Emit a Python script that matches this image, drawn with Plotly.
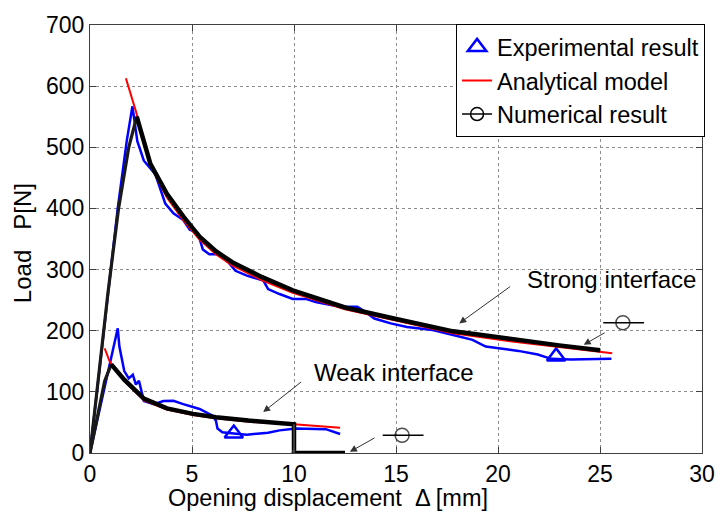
import plotly.graph_objects as go

# ---- Strong interface ----
strong_exp_x = [0, 0.88, 1.36, 1.80, 2.08, 2.32, 2.64, 3.20, 3.69, 4.09, 4.57, 4.89, 5.29, 5.53,
                5.85, 6.33, 6.81, 7.13, 7.69, 8.50, 8.73, 9.29, 9.94, 10.58, 11.06, 12.00,
                12.66, 13.10, 13.40, 13.94, 14.74, 15.54, 16.20, 16.80, 17.80, 18.75, 19.40,
                20.20, 21.00, 21.95, 22.60, 23.56, 24.20, 24.84, 25.56]
strong_exp_y = [0, 264, 400, 510, 567, 510, 478, 456, 408, 392, 381, 365, 360, 333,
                325, 325, 311, 298, 290, 282, 268, 260, 252, 252, 247, 241,
                239, 239, 233, 220, 212, 206, 204, 201, 193, 185, 174,
                170, 167, 161, 154, 153, 153, 154, 154]

strong_ana_x = [1.76, 2.24, 2.96, 3.77, 4.57, 5.37, 6.17, 6.97, 8.41, 9.94, 12.5, 14.9,
                17.8, 21.0, 23.0, 25.6]
strong_ana_y = [613, 560, 470, 418, 381, 349, 325, 307, 283, 262, 235, 217,
                196, 181, 173, 163]

strong_num_x = [0, 0.88, 1.40, 1.90, 2.29, 2.96, 3.77, 4.57, 5.37, 6.17, 6.97, 8.41, 9.94,
                12.5, 14.9, 17.8, 18.75, 21.0, 23.0, 25.0]
strong_num_y = [0, 262, 400, 500, 550, 473, 424, 387, 354, 330, 312, 288, 266,
                238, 220, 199, 195, 184, 176, 168]

# ---- Weak interface ----
weak_exp_x = [0, 1.36, 1.44, 1.68, 1.90, 2.10, 2.25, 2.40, 2.64, 3.13, 3.60, 4.09, 4.57,
              5.37, 6.01, 6.17, 6.25, 6.49, 7.05, 7.69, 8.73, 9.29, 10.1, 11.4, 11.56, 12.26]
weak_exp_y = [0, 204, 174, 134, 122, 128, 112, 118, 85, 80, 85, 85.5, 80,
              72, 61, 53, 40, 34, 32, 30, 33, 37, 40, 40, 39, 31]

weak_ana_x = [0.72, 0.96, 1.68, 2.64, 3.77, 5.05, 6.17, 7.77, 10.0, 11.0, 12.26]
weak_ana_y = [171, 150, 118, 86, 71, 62, 57, 51, 47, 44.5, 41.5]

weak_num_x = [0, 0.72, 1.04, 1.68, 2.64, 3.77, 5.05, 6.17, 7.77, 10.0, 10.0, 12.5]
weak_num_y = [0, 118, 145, 120, 89, 73, 64, 58.6, 53, 47, 0, 0]

# Triangle markers on the experimental curves
tri_x = [7.05, 22.85]
tri_y = [32, 158]

# Circle-with-line keys placed next to the numerical curves
key_weak_x = [14.35, 15.3, 16.35]
key_weak_y = [29, 29, 29]
key_strong_x = [25.16, 26.12, 27.16]
key_strong_y = [213, 213, 213]

# Arrow annotations: (head_x, head_y, tail_x, tail_y)
arrows = [
    (18.1, 212, 20.67, 274),
    (8.49, 67, 10.42, 118),
    (12.74, 2, 14.02, 26),
    (24.2, 177, 25.3, 198),
]
labels = [("Strong interface", 25.55, 284), ("Weak interface", 14.9, 132)]

FONT = "Liberation Sans, Arial, sans-serif"
BLUE = "#0000ff"
RED = "#ff0000"


def peak_index(ys):
    return max(range(len(ys)), key=lambda i: ys[i])


fig = go.Figure()

# Legend entries / triangles
fig.add_trace(go.Scatter(x=tri_x, y=tri_y, mode="markers", name="Experimental result",
                         marker=dict(symbol="triangle-up-open", size=16, color=BLUE,
                                     line=dict(width=2.5, color=BLUE))))

# Experimental curves
for xs, ys in [(strong_exp_x, strong_exp_y), (weak_exp_x, weak_exp_y)]:
    fig.add_trace(go.Scatter(x=xs, y=ys, mode="lines", showlegend=False,
                             line=dict(color=BLUE, width=2.5)))

# Analytical curves
fig.add_trace(go.Scatter(x=strong_ana_x, y=strong_ana_y, mode="lines", name="Analytical model",
                         line=dict(color=RED, width=2)))
fig.add_trace(go.Scatter(x=weak_ana_x, y=weak_ana_y, mode="lines", showlegend=False,
                         line=dict(color=RED, width=2)))

# Numerical legend entry
fig.add_trace(go.Scatter(x=[None], y=[None], mode="lines+markers", name="Numerical result",
                         line=dict(color="black", width=1.5),
                         marker=dict(symbol="circle-open", size=13, color="black",
                                     line=dict(width=1.5, color="black"))))

# Numerical curves: loading branch thinner, softening branch thick
for xs, ys in [(strong_num_x, strong_num_y), (weak_num_x, weak_num_y)]:
    p = peak_index(ys)
    fig.add_trace(go.Scatter(x=xs[:p + 1], y=ys[:p + 1], mode="lines", showlegend=False,
                             line=dict(color="#1a1a1a", width=3.2)))
    drop = [i for i in range(1, len(xs)) if xs[i] == xs[i - 1]]
    end = drop[0] if drop else len(xs) - 1
    fig.add_trace(go.Scatter(x=xs[p:end + 1], y=ys[p:end + 1], mode="lines", showlegend=False,
                             line=dict(color="black", width=4.5)))
    if drop:
        d = drop[0]
        # sudden load drop and residual branch
        fig.add_trace(go.Scatter(x=xs[d - 1:d + 1], y=ys[d - 1:d + 1], mode="lines+markers",
                                 showlegend=False, line=dict(color="#777777", width=1),
                                 marker=dict(symbol="circle-open", size=[0, 5],
                                             color="#777777")))
        fig.add_trace(go.Scatter(x=xs[d:], y=ys[d:], mode="lines", showlegend=False,
                                 line=dict(color="black", width=4.5)))

# Circle keys
for xs, ys in [(key_weak_x, key_weak_y), (key_strong_x, key_strong_y)]:
    fig.add_trace(go.Scatter(x=xs, y=ys, mode="lines+markers", showlegend=False,
                             line=dict(color="black", width=1.5),
                             marker=dict(symbol="circle-open", size=[0, 14, 0], color="black",
                                         line=dict(width=1.5, color="black"))))

annotations = []
for hx, hy, tx, ty in arrows:
    annotations.append(dict(x=hx, y=hy, ax=tx, ay=ty, xref="x", yref="y", axref="x", ayref="y",
                            text="", showarrow=True, arrowhead=2, arrowsize=1.4,
                            arrowwidth=1, arrowcolor="#333333"))
for txt, lx, ly in labels:
    annotations.append(dict(x=lx, y=ly, xref="x", yref="y", text=txt, showarrow=False,
                            xanchor="center", yanchor="middle",
                            font=dict(family=FONT, size=24, color="black")))
annotations.append(dict(x=0.389, y=-0.106, xref="paper", yref="paper",
                        xanchor="center", yanchor="middle",
                        text="Opening displacement  \u0394 [mm]", showarrow=False,
                        font=dict(family=FONT, size=23.5, color="black")))
annotations.append(dict(x=-0.109, y=0.491, xref="paper", yref="paper", textangle=-90,
                        xanchor="center", yanchor="middle",
                        text="Load   P[N]", showarrow=False,
                        font=dict(family=FONT, size=24, color="black")))

axis_common = dict(showline=True, linecolor="#404040", linewidth=1, mirror="ticks",
                   ticks="inside", ticklen=6, tickcolor="#404040",
                   showgrid=True, gridcolor="#8c8c8c", griddash="dot", gridwidth=1,
                   zeroline=False, tickfont=dict(family=FONT, size=23, color="black"))

fig.update_layout(
    width=727, height=517,
    margin=dict(l=90, r=13, t=19, b=64),
    paper_bgcolor="white", plot_bgcolor="white",
    xaxis=dict(range=[0, 30], dtick=5, **axis_common),
    yaxis=dict(range=[0, 700], dtick=100, **axis_common),
    legend=dict(x=1.005, y=1.002, xanchor="right", yanchor="top",
                bgcolor="white", bordercolor="black", borderwidth=1,
                font=dict(family=FONT, size=23.5, color="black"),
                tracegroupgap=0),
    annotations=annotations,
    showlegend=True,
)

fig.write_html("out.html")
